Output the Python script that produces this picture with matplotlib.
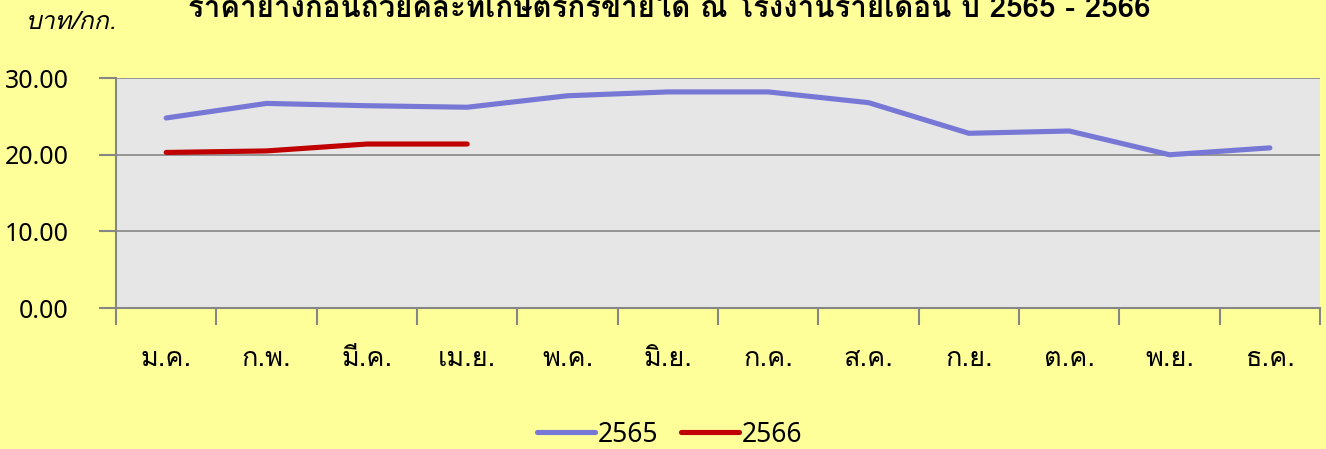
import matplotlib
matplotlib.use('Agg')
import matplotlib.pyplot as plt
from matplotlib import font_manager
from matplotlib.ft2font import FT2Font

months = ['ม.ค.', 'ก.พ.', 'มี.ค.', 'เม.ย.', 'พ.ค.', 'มิ.ย.',
          'ก.ค.', 'ส.ค.', 'ก.ย.', 'ต.ค.', 'พ.ย.', 'ธ.ค.']
price_2565 = [24.8, 26.7, 26.4, 26.2, 27.7, 28.2, 28.2, 26.8, 22.8, 23.1, 20.0, 20.9]
price_2566 = [20.3, 20.5, 21.4, 21.4]
yticks = [0, 10, 20, 30]

title = 'ราคายางก้อนถ้วยคละที่เกษตรกรขายได้ ณ โรงงานรายเดือน ปี 2565 - 2566'
unit = 'บาท/กก.'


# find any installed font that has Thai glyphs
def find_thai_family():
    for fe in font_manager.fontManager.ttflist:
        try:
            if 0x0E01 in FT2Font(fe.fname).get_charmap():
                return fe.name
        except Exception:
            continue
    return None


thai = find_thai_family()
plt.rcParams['font.family'] = ([thai] if thai else []) + ['DejaVu Sans']
num_font = ['Noto Sans', 'DejaVu Sans']

bg = '#FFFF99'
grey = '#868686'

fig = plt.figure(figsize=(13.26, 4.49), dpi=100, facecolor=bg)
ax = fig.add_axes([0.0875, 0.314, 0.908, 0.512])
ax.set_facecolor('#E6E6E6')

x = [i + 0.5 for i in range(len(months))]
ax.plot(x, price_2565, color='#7777D6', lw=3.7, solid_capstyle='round', label='2565')
ax.plot(x[:len(price_2566)], price_2566, color='#C00000', lw=3.7,
        solid_capstyle='round', label='2566')

ax.set_xlim(0, 12)
ax.set_ylim(0, 30)
ax.set_yticks(yticks)
ax.set_yticklabels([f'{v:.2f}' for v in yticks], family=num_font, fontsize=18)
ax.yaxis.grid(True, color=grey, lw=1.2)
ax.set_axisbelow(True)

ax.set_xticks(range(13))
ax.set_xticklabels([])
ax.set_xticks(x, minor=True)
ax.set_xticklabels(months, minor=True, fontsize=19.5)
ax.tick_params(axis='x', which='major', length=12, width=1.5, color=grey, direction='out')
ax.tick_params(axis='x', which='minor', length=0, pad=28)
ax.tick_params(axis='y', length=12, width=1.5, color=grey, pad=22)

for s in ['top', 'right']:
    ax.spines[s].set_visible(False)
for s in ['left', 'bottom']:
    ax.spines[s].set_color(grey)
    ax.spines[s].set_linewidth(1.5)

fig.text(0.505, 0.985, title, ha='center', va='center', fontsize=21.2, fontweight='bold')
fig.text(0.019, 0.95, unit, ha='left', va='center', fontsize=18, style='italic')

leg = fig.legend(loc='lower center', bbox_to_anchor=(0.505, -0.052), ncol=2, frameon=False,
                 prop={'family': num_font, 'size': 19},
                 handlelength=2.2, handletextpad=0.1, columnspacing=0.85)

fig.savefig('out.png', dpi=100, facecolor=bg)
